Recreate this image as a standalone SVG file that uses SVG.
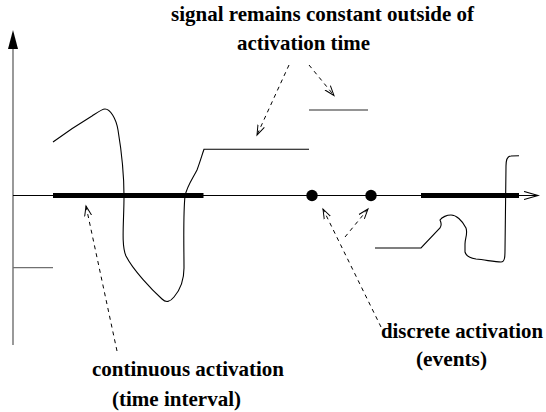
<svg xmlns="http://www.w3.org/2000/svg" width="546" height="412" viewBox="0 0 546 412">
<style>
.lbl{font-family:"Liberation Serif","Times New Roman",serif;font-weight:bold;font-size:21px;fill:#000}
.axis{stroke:#808080;stroke-width:1.6;fill:none}
.gray{stroke:#707070;stroke-width:1.3;fill:none}
.thin{stroke:#000;stroke-width:1;fill:none}
.sig{stroke:#000;stroke-width:1.1;fill:none}
.bar{stroke:#000;stroke-width:5;fill:none}
.dash{stroke:#000;stroke-width:1;fill:none;stroke-dasharray:4 4}
</style>
<defs>
<marker id="open" markerUnits="userSpaceOnUse" markerWidth="14" markerHeight="10" refX="10" refY="5" orient="auto">
<path d="M0,1.5 L10,5 L0,8.5" fill="none" stroke="#000" stroke-width="1"/>
</marker>
<marker id="axhead" markerUnits="userSpaceOnUse" markerWidth="16" markerHeight="10" refX="14" refY="5" orient="auto">
<path d="M0,1 L14,5 L0,9" fill="none" stroke="#000" stroke-width="1.2"/>
</marker>
</defs>

<g id="axes">
<line class="axis" x1="13" y1="345" x2="13" y2="48"/>
<polygon points="13,30 8,49 18,49" fill="#000"/>
<line class="thin" x1="13" y1="195.5" x2="538" y2="195.5" marker-end="url(#axhead)"/>
</g>

<g id="interval-1"><line class="bar" x1="53" y1="195.5" x2="203.5" y2="195.5"/></g>
<g id="interval-2"><line class="bar" x1="421" y1="195.5" x2="519" y2="195.5"/></g>
<g id="event-1"><circle cx="312" cy="195.5" r="5.7" fill="#000"/></g>
<g id="event-2"><circle cx="371" cy="195.5" r="5.7" fill="#000"/></g>

<g id="signal">
<line class="gray" x1="13" y1="267.7" x2="53" y2="267.7"/>
<path class="sig" d="M53,142 C68,131 82,122 92,116 C98,112 102,109 105,109 C110,109 116,118 118,130 C121,148 124,170 124,196 C124,222 121,245 126,256 C133,270 152,290 162,299 C166,303 170,302 174,297 C180,290 184,282 184,268 C184,248 183,216 185,196 C187,186 193,178 197,170 C200,162 202,155 204,149.3 L309,149.3"/>
<line class="gray" x1="309" y1="110" x2="368" y2="110"/>
<path class="sig" d="M375,248 L421,248 L440,228 C442,225 441,222 440,220 C442,217 447,215 451,215 C456,215 462,220 466,228 C468,234 465,238 465,244 L465,252 C466,256 469,258 476,259 C486,260 495,262 501,262 C505,262 505,256 505,250 L506,166 C506,160 507,156 511,156 L519,155.7"/>
</g>

<g id="connectors">
<line class="dash" x1="289" y1="65" x2="257" y2="135" marker-end="url(#open)"/>
<line class="dash" x1="309" y1="65" x2="334" y2="95.5" marker-end="url(#open)"/>
<line class="dash" x1="117" y1="351" x2="86" y2="206" marker-end="url(#open)"/>
<line class="dash" x1="381" y1="327" x2="323" y2="209" marker-end="url(#open)"/>
<line class="dash" x1="345" y1="237" x2="368" y2="209" marker-end="url(#open)"/>
</g>

<g id="label-constant">
<text class="lbl" x="171" y="21" textLength="303" lengthAdjust="spacingAndGlyphs">signal remains constant outside of</text>
<text class="lbl" x="237" y="50" textLength="133" lengthAdjust="spacingAndGlyphs">activation time</text>
</g>
<g id="label-continuous">
<text class="lbl" x="92" y="376" textLength="192" lengthAdjust="spacingAndGlyphs">continuous activation</text>
<text class="lbl" x="112" y="406" textLength="129" lengthAdjust="spacingAndGlyphs">(time interval)</text>
</g>
<g id="label-discrete">
<text class="lbl" x="381" y="338" textLength="162" lengthAdjust="spacingAndGlyphs">discrete activation</text>
<text class="lbl" x="416" y="366" textLength="71" lengthAdjust="spacingAndGlyphs">(events)</text>
</g>
</svg>
